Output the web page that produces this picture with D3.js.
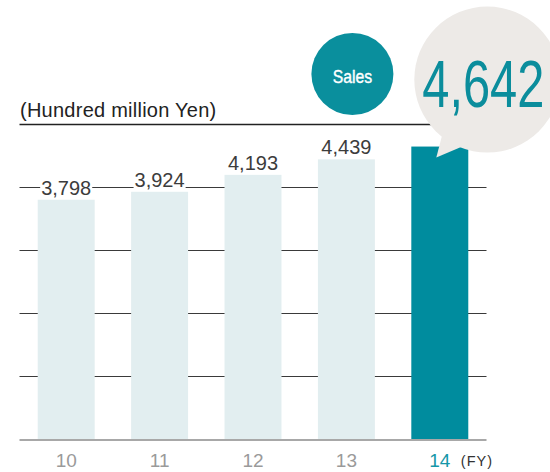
<!DOCTYPE html>
<html><head><meta charset="utf-8">
<script src="https://cdn.jsdelivr.net/npm/d3@7"></script>
<style>
html,body{margin:0;padding:0;background:#fff;}
svg{display:block;font-family:"Liberation Sans",Arial,sans-serif;}
</style></head>
<body><svg id="c" width="550" height="472"></svg>
<script>
const categories = ["10", "11", "12", "13", "14"];
const sales = [3798, 3924, 4193, 4439, 4642];
const gridValues = [1000, 2000, 3000, 4000, 5000];
const unitLabel = "(Hundred million Yen)";
const axisSuffix = "(FY)";
const badgeLabel = "Sales";

const teal = "#008c9e", light = "#e2eef0";
const svg = d3.select("#c");
const x = d3.scaleBand().domain(categories).range([19.5, 486.5]).paddingInner(0.39).paddingOuter(0.195);
const y = d3.scaleLinear().domain([0, 5000]).range([439, 124]);
const fmt = d3.format(",");
const last = categories.length - 1;

// grid lines
svg.append("g").selectAll("line").data(gridValues).join("line")
  .attr("x1", 19.5).attr("x2", 486.5)
  .attr("y1", d => Math.round(y(d)) + 0.5).attr("y2", d => Math.round(y(d)) + 0.5)
  .attr("stroke", d => d === 5000 ? "#222" : "#3a3a3a")
  .attr("stroke-width", d => d === 5000 ? 1.5 : 1);

// bars
svg.append("g").selectAll("rect").data(sales).join("rect")
  .attr("x", (d, i) => x(categories[i]))
  .attr("width", x.bandwidth())
  .attr("y", d => y(d))
  .attr("height", d => y(0) - y(d))
  .attr("fill", (d, i) => i === last ? teal : light);

// baseline
svg.append("line").attr("x1", 19.5).attr("x2", 486.5).attr("y1", 440).attr("y2", 440)
  .attr("stroke", "#a8a8a8").attr("stroke-width", 2);

// value labels (except last) with white background
const lab = svg.append("g").selectAll("g").data(sales.slice(0, last)).join("g");
lab.each(function(d, i) {
  const g = d3.select(this);
  const cx = x(categories[i]) + x.bandwidth() / 2;
  const t = g.append("text").attr("x", cx).attr("y", y(d) - 5)
    .attr("text-anchor", "middle").attr("font-size", 20).attr("fill", "#3c3c3c")
    .text(fmt(d));
  const bb = t.node().getBBox();
  g.insert("rect", "text").attr("x", bb.x - 1).attr("y", bb.y).attr("width", bb.width + 2)
    .attr("height", bb.height).attr("fill", "#fff");
});

// x axis labels
svg.append("g").selectAll("text").data(categories).join("text")
  .attr("x", d => x(d) + x.bandwidth() / 2).attr("y", 467)
  .attr("text-anchor", "middle").attr("font-size", 19)
  .attr("fill", (d, i) => i === last ? "#1597a8" : "#9a9a9a")
  .text(d => d);
svg.append("text").attr("x", x(categories[last]) + x.bandwidth() / 2 + 21).attr("y", 466)
  .attr("font-size", 14.5).attr("letter-spacing", 1).attr("fill", "#333").text(axisSuffix);

// unit label
svg.append("text").attr("x", 20).attr("y", 117).attr("font-size", 20)
  .attr("letter-spacing", 0.25).attr("fill", "#222").text(unitLabel);

// Sales badge
const bx = x(categories[last - 1]) + x.bandwidth() / 2 + 6;
svg.append("circle").attr("cx", bx).attr("cy", 74).attr("r", 41).attr("fill", "#0a8f9d");
svg.append("text").attr("transform", `translate(${bx},82.5) scale(0.9,1)`).attr("text-anchor", "middle")
  .attr("font-size", 17.5).attr("fill", "#fff").attr("stroke", "#fff").attr("stroke-width", 0.4)
  .text(badgeLabel);

// callout bubble for last value
const lx = x(categories[last]), ly = y(sales[last]);
const ccx = lx + 76, ccy = ly - 67;
const bubbleFill = "#edeae7";
svg.append("path")
  .attr("d", `M${lx + 25},${ly + 11} L${lx + 31},${ly - 12} L${lx + 58},${ly - 3} Z`)
  .attr("fill", bubbleFill);
svg.append("circle").attr("cx", ccx).attr("cy", ccy).attr("r", 73).attr("fill", bubbleFill);
svg.append("text").attr("transform", `translate(${ccx - 4},${ccy + 27}) scale(0.74,1)`)
  .attr("text-anchor", "middle")
  .attr("font-size", 66).attr("fill", "#0b8d9c")
  .text(fmt(sales[last]));
</script></body></html>
